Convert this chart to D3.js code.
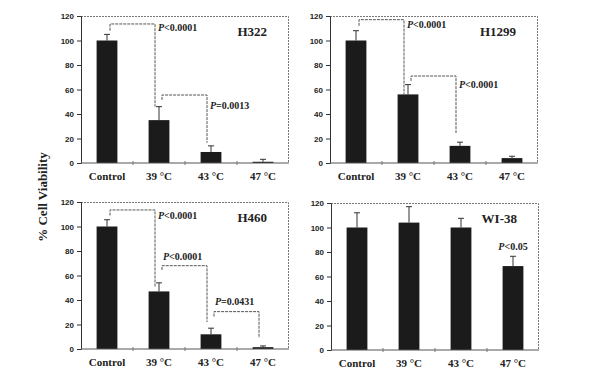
<!DOCTYPE html>
<html>
<head>
<meta charset="utf-8">
<script src="https://cdn.jsdelivr.net/npm/d3@7"></script>
<style>
  body { margin: 0; background: #fff; }
  svg { display: block; }
  .tick text { font-family: "Liberation Sans", Arial, sans-serif; font-weight: bold; font-size: 8px; fill: #222; }
  .xlab { font-family: "Liberation Serif", "Times New Roman", serif; font-weight: bold; font-size: 11px; fill: #222; }
  .title { font-family: "Liberation Serif", "Times New Roman", serif; font-weight: bold; font-size: 13px; fill: #222; }
  .plab { font-family: "Liberation Serif", "Times New Roman", serif; font-weight: bold; font-size: 10px; fill: #222; }
</style>
</head>
<body>
<svg id="chart" width="591" height="386"></svg>
<script>
// categories and tick labels
const categories = ["Control", "39 °C", "43 °C", "47 °C"];
const yTicks = [0, 20, 40, 60, 80, 100, 120];

// cell lines (panel titles)
const cellLines = ["H322", "H1299", "H460", "WI-38"];

// mean % viability per cell line
const h322Values = [100, 35, 9, 1];
const h1299Values = [100, 56, 14, 4];
const h460Values = [100, 47, 12, 1.5];
const wi38Values = [100, 104, 100, 68.5];

// upper error (SD)
const h322Errors = [5, 11, 5, 2];
const h1299Errors = [8, 8, 3, 1.5];
const h460Errors = [5.5, 7, 5, 1];
const wi38Errors = [12, 13, 7.5, 8];

// significance brackets: [from, to, top, leftEnd, rightEnd, label, labelValue, labelSide]
const h322Brackets = [
    [0, 1, 113.5, 108, 46, "<0.0001", 108, "right"],
    [1, 2, 55.5, 51.5, 16.5, "=0.0013", 44, "right"]
];
const h1299Brackets = [
    [0, 1, 117, 112, 56, "<0.0001", 110, "right"],
    [1, 2, 71, 67, 24.5, "<0.0001", 61, "right"]
];
const h460Brackets = [
    [0, 1, 113.5, 109, 51, "<0.0001", 106, "right"],
    [1, 2, 68, 64.5, 22, "<0.0001", 73, "left"],
    [2, 3, 30.5, 26.5, 9, "=0.0431", 36, "left"]
];
const wi38Brackets = [];
// lone p-value label above a bar: [index, value, label]
const wi38Notes = [[3, 82, "<0.05"]];

const panels = [
    {name: cellLines[0], values: h322Values, errors: h322Errors, brackets: h322Brackets, notes: [], x: 81, y: 16},
    {name: cellLines[1], values: h1299Values, errors: h1299Errors, brackets: h1299Brackets, notes: [], x: 330, y: 16},
    {name: cellLines[2], values: h460Values, errors: h460Errors, brackets: h460Brackets, notes: [], x: 81, y: 202},
    {name: cellLines[3], values: wi38Values, errors: wi38Errors, brackets: wi38Brackets, notes: wi38Notes, x: 331, y: 203}
];

const width = 208;
const height = 147;
const svg = d3.select("#chart");

const xScale = d3.scaleBand()
    .domain(categories)
    .range([0, width])
    .paddingInner(0.6)
    .paddingOuter(0.3);

const yScale = d3.scaleLinear()
    .domain([0, 120])
    .range([height, 0]);

panels.forEach(function (p) {
    let g = svg.append("g").attr("transform", "translate(" + p.x + "," + p.y + ")");

    // dotted frame top and right
    g.append("path")
        .attr("d", "M0,0.5 H" + (width - 0.5) + " V" + height)
        .attr("fill", "none")
        .attr("stroke", "#777")
        .attr("stroke-width", 1)
        .attr("stroke-dasharray", "2,1");

    // bars
    g.selectAll("rect.bar")
        .data(p.values)
        .enter()
        .append("rect")
        .attr("class", "bar")
        .attr("x", function (d, i) { return xScale(categories[i]); })
        .attr("y", function (d) { return yScale(d); })
        .attr("width", xScale.bandwidth())
        .attr("height", function (d) { return height - yScale(d); })
        .attr("fill", "#1b1b1b");

    // error bars (upper only)
    let cx = function (i) { return xScale(categories[i]) + xScale.bandwidth() / 2; };
    p.values.forEach(function (v, i) {
        let top = yScale(v + p.errors[i]);
        g.append("line")
            .attr("x1", cx(i)).attr("x2", cx(i))
            .attr("y1", yScale(v)).attr("y2", top)
            .attr("stroke", "#333").attr("stroke-width", 1);
        g.append("line")
            .attr("x1", cx(i) - 3).attr("x2", cx(i) + 3)
            .attr("y1", top).attr("y2", top)
            .attr("stroke", "#333").attr("stroke-width", 1);
    });

    // y axis
    let yAxis = g.append("g")
        .call(d3.axisLeft(yScale).tickValues(yTicks).tickSize(4).tickPadding(3));
    yAxis.select(".domain").attr("stroke", "#333");
    yAxis.selectAll(".tick line").attr("stroke", "#333");

    // x axis line with ticks between categories
    g.append("line")
        .attr("x1", 0).attr("x2", width)
        .attr("y1", height).attr("y2", height)
        .attr("stroke", "#555").attr("stroke-width", 1);
    for (let i = 1; i < categories.length; i++) {
        let bx = xScale.step() * i;
        g.append("line")
            .attr("x1", bx).attr("x2", bx)
            .attr("y1", height - 2).attr("y2", height + 2)
            .attr("stroke", "#777").attr("stroke-width", 1);
    }

    // category labels
    g.selectAll("text.xlab")
        .data(categories)
        .enter()
        .append("text")
        .attr("class", "xlab")
        .attr("x", function (d, i) { return cx(i); })
        .attr("y", height + 17)
        .attr("text-anchor", "middle")
        .text(function (d) { return d; });

    // panel title
    g.append("text")
        .attr("class", "title")
        .attr("x", width - 22)
        .attr("y", 20)
        .attr("text-anchor", "end")
        .text(p.name);

    // significance brackets
    p.brackets.forEach(function (b) {
        let lx = cx(b[0]) + 3;
        let rx = cx(b[1]) - 4;
        g.append("path")
            .attr("d", "M" + lx + "," + yScale(b[3]) + " V" + yScale(b[2]) +
                " H" + rx + " V" + yScale(b[4]))
            .attr("fill", "none")
            .attr("stroke", "#555")
            .attr("stroke-width", 1)
            .attr("stroke-dasharray", "3,1");
        let t = g.append("text")
            .attr("class", "plab")
            .attr("x", b[7] === "left" ? lx + 1 : rx + 3)
            .attr("y", yScale(b[6]));
        t.append("tspan").attr("font-style", "italic").text("P");
        t.append("tspan").text(b[5]);
    });

    p.notes.forEach(function (n) {
        let t = g.append("text")
            .attr("class", "plab")
            .attr("x", cx(n[0]))
            .attr("y", yScale(n[1]))
            .attr("text-anchor", "middle");
        t.append("tspan").attr("font-style", "italic").text("P");
        t.append("tspan").text(n[2]);
    });
});

// shared y title
svg.append("text")
    .attr("transform", "translate(47,197) rotate(-90)")
    .attr("text-anchor", "middle")
    .attr("font-family", "'Liberation Serif', 'Times New Roman', serif")
    .attr("font-weight", "bold")
    .attr("font-size", 13)
    .attr("fill", "#222")
    .text("% Cell Viability");
</script>
</body>
</html>
